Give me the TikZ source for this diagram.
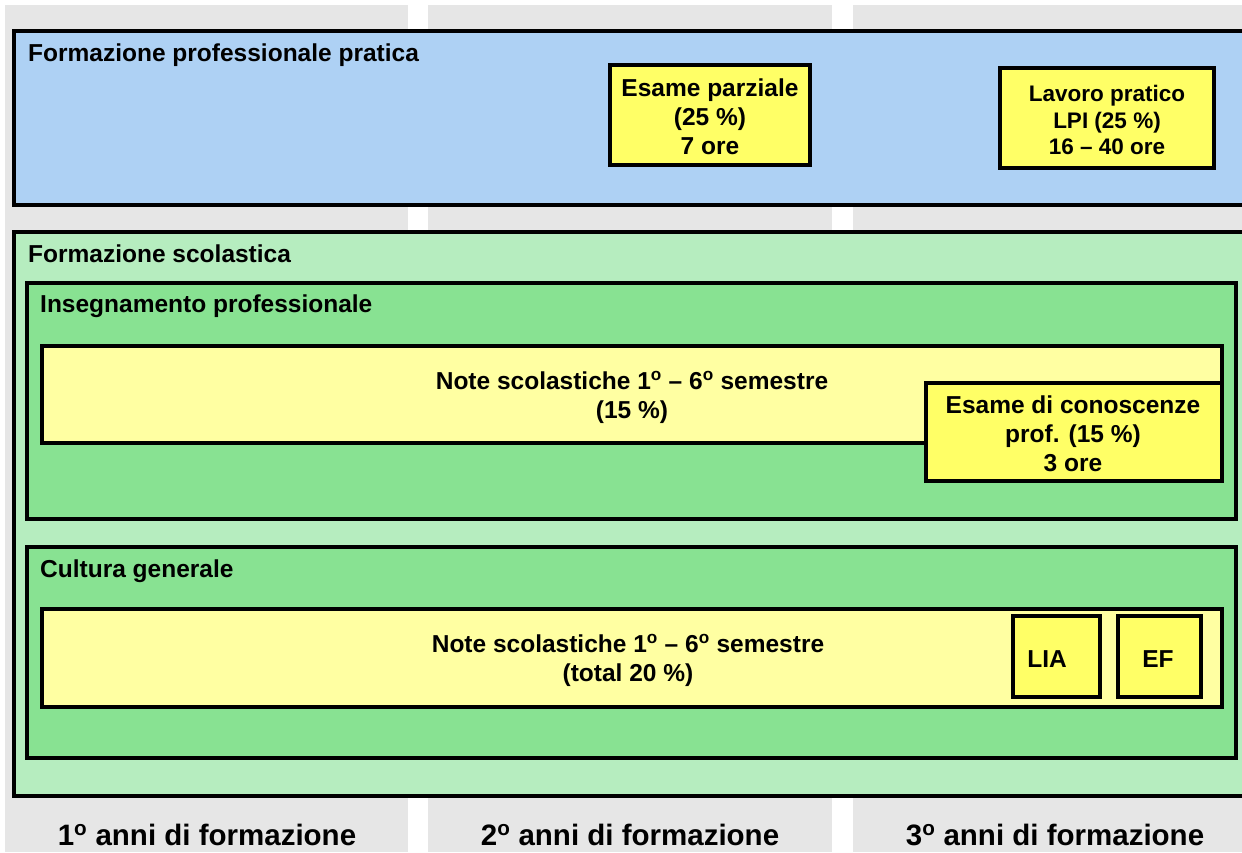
\documentclass[tikz,border=0pt]{standalone}
\usepackage{fontspec}
\setmainfont{Liberation Sans}
\usetikzlibrary{fit}
\definecolor{colgrey}{HTML}{E6E6E6}
\definecolor{pblue}{HTML}{AED1F4}
\definecolor{lgreen}{HTML}{B6EDBF}
\definecolor{mgreen}{HTML}{88E292}
\definecolor{pyellow}{HTML}{FFFFA2}
\definecolor{byellow}{HTML}{FFFF66}
\newcommand{\ordo}{\textsuperscript{o}}
\tikzset{
  yearcol/.style={fill=colgrey, draw=none, inner sep=0pt},
  frame/.style={draw=black, line width=4pt, inner sep=0pt},
  subframe/.style={draw=black, line width=3.5pt, inner sep=0pt},
  boxtxt/.style={font=\fontsize{24.5}{29}\selectfont\bfseries, align=center, text=black, inner sep=0pt},
  smalltxt/.style={font=\fontsize{22.5}{26.5}\selectfont\bfseries, align=center, text=black, inner sep=0pt},
  titletxt/.style={font=\fontsize{24.5}{29}\selectfont\bfseries, anchor=base west, inner sep=0pt, text=black},
  yearlbl/.style={font=\fontsize{29.5}{34}\selectfont\bfseries, anchor=base, inner sep=0pt, text=black},
}
\begin{document}
\begin{tikzpicture}[x=1pt,y=-1pt]
\useasboundingbox[fill=white] (0,0) rectangle (1242,852);
% year columns
\node[yearcol, fit={(5,5) (408,852)}] (col1) {};
\node[yearcol, fit={(428,5) (832,852)}] (col2) {};
\node[yearcol, fit={(853,5) (1246,852)}] (col3) {};
% practical training
\node[frame, fill=pblue, fit={(14,31) (1250,205)}] (prat) {};
\node[titletxt] (pratt) at (28,61) {Formazione professionale pratica};
\node[frame, fill=byellow, fit={(610,65) (810,165)}] (parz) {};
\node[boxtxt] (parzt) at (710,117) {Esame parziale\\(25 \%)\\7 ore};
\node[frame, fill=byellow, fit={(1000,68) (1214,168)}] (lpi) {};
\node[smalltxt] (lpit) at (1107,120) {Lavoro pratico\\LPI (25 \%)\\16 – 40 ore};
% school training
\node[frame, fill=lgreen, fit={(14,232) (1250,796)}] (scol) {};
\node[titletxt] (scolt) at (28,262) {Formazione scolastica};
\node[subframe, fill=mgreen, fit={(27,283) (1236,519)}] (ins) {};
\node[titletxt] (inst) at (40,312) {Insegnamento professionale};
\node[subframe, fill=pyellow, fit={(42,346) (1222,443)}] (note1) {};
\node[boxtxt] (note1t) at (632,397) {Note scolastiche 1\ordo{} – 6\ordo{} semestre\\(15 \%)};
\node[subframe, fill=byellow, fit={(926,383) (1222,481)}] (conosc) {};
\node[boxtxt] (conosct) at (1073,434) {Esame di conoscenze\\prof. (15 \%)\\3 ore};
\node[subframe, fill=mgreen, fit={(27,547) (1236,758)}] (cult) {};
\node[titletxt] (cultt) at (40,577) {Cultura generale};
\node[subframe, fill=pyellow, fit={(42,609) (1222,707)}] (note2) {};
\node[boxtxt] (note2t) at (628,660) {Note scolastiche 1\ordo{} – 6\ordo{} semestre\\(total 20 \%)};
\node[subframe, fill=byellow, fit={(1013,616) (1100,697)}] (lia) {};
\node[boxtxt] (liat) at (1047,659) {LIA};
\node[subframe, fill=byellow, fit={(1118,616) (1201,697)}] (ef) {};
\node[boxtxt] (eft) at (1158,659) {EF};
% year labels
\node[yearlbl] (y1) at (207,845) {1\ordo{} anni di formazione};
\node[yearlbl] (y2) at (630,845) {2\ordo{} anni di formazione};
\node[yearlbl] (y3) at (1055,845) {3\ordo{} anni di formazione};
\end{tikzpicture}
\end{document}
